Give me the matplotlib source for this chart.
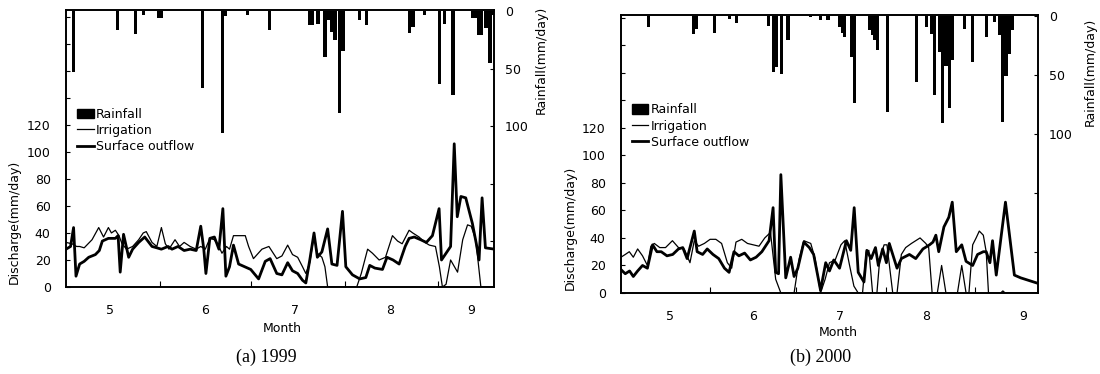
import numpy as np
import matplotlib
matplotlib.use('Agg')
import matplotlib.pyplot as plt
from matplotlib.patches import Patch
from matplotlib.lines import Line2D

# -------- data: days counted from 1 May, (day, value)
rain_a = [(2.4, 53), (17, 16), (23, 20), (25.5, 3), (30.5, 6), (31.5, 6), (45, 67),
          (51.7, 106), (52.6, 4), (60, 3), (67.3, 16), (80.5, 12), (81.5, 12),
          (83.2, 11), (85.5, 40), (86.6, 8), (87.7, 18), (88.8, 25), (90.4, 89),
          (91.5, 35), (97, 8), (99.2, 12), (113.5, 19), (114.6, 14), (118.4, 3),
          (123.4, 63), (125, 11), (127.8, 73), (134.4, 6), (135.3, 6), (136.2, 21),
          (137.2, 21), (138.7, 15), (140, 45), (141, 3)]

irr_a = [(0, 33), (2, 32), (3.5, 30), (4.5, 30), (6, 29), (8.6, 35), (10.8, 44),
         (12.4, 37), (14, 44), (15, 40), (16.3, 42), (17.5, 38), (18.5, 32), (20, 28),
         (22, 30), (24, 35), (25.5, 40), (26.5, 41), (28.4, 33), (30, 30), (31.5, 44),
         (32.8, 32), (34, 28), (36, 35), (37.5, 30), (39, 33), (41, 30), (43, 28),
         (44.5, 30), (46, 28), (47.5, 36), (49, 35), (50.5, 30), (51.5, 25), (53, 30),
         (54, 28), (55.3, 38), (57, 38), (59.2, 38), (60.3, 30), (61.9, 21), (64.7, 28),
         (67, 30), (69.6, 21), (71.3, 23), (73.2, 31), (74.8, 24), (76.5, 22), (78.1, 15),
         (79.2, 10), (80.5, 18), (81.9, 38), (83, 25), (84.5, 22), (85.5, 15), (86.4, 0),
         (96, 0), (97.5, 10), (99.6, 28), (101.2, 25), (103.4, 20), (105.5, 22),
         (107.8, 38), (109.5, 34), (111, 32), (113.3, 42), (114.5, 40), (116.6, 37),
         (118.5, 33), (120, 31), (122, 30), (123.3, 15), (124.3, 0), (125.5, 2),
         (127, 20), (129.3, 11), (131, 35), (132.6, 46), (133.8, 45), (135.3, 35),
         (137, 0), (141.5, 0)]

surf_a = [(0, 28), (1.5, 30), (2.5, 44), (3.3, 8), (4.5, 17), (6, 19), (7.5, 22),
          (9.7, 24), (11, 27), (12, 34), (14, 36), (16.3, 36), (17.2, 38), (17.9, 11),
          (19, 39), (20.7, 22), (22, 28), (24, 33), (26, 37), (28.4, 30), (30, 29),
          (31.5, 28), (33.7, 30), (35, 28), (37, 30), (39, 27), (41, 28), (43, 27),
          (44.5, 45), (45.5, 28), (46.2, 10), (47.5, 36), (49, 37), (50.5, 28),
          (51.8, 58), (52.8, 8), (54, 15), (55.3, 31), (57, 17), (59, 15), (61, 13),
          (63.6, 6), (65.8, 19), (67.4, 21), (69.6, 10), (71.3, 9), (73.2, 18),
          (74.8, 12), (76.5, 10), (78.1, 5), (79.2, 3), (80.5, 20), (81.9, 40), (83, 22),
          (84.5, 26), (86.4, 43), (87.8, 17), (89.5, 16), (91.3, 56), (92.4, 15),
          (94.6, 9), (97, 6), (99, 7), (100.3, 16), (102, 14), (104.5, 13), (106, 22),
          (108, 20), (110, 17), (112, 30), (113.3, 36), (115, 37), (117.1, 35), (119, 33),
          (121, 38), (123.2, 58), (124, 20), (125.5, 25), (127, 30), (128.2, 106),
          (129.2, 52), (130.4, 67), (132, 66), (134.2, 47), (135.5, 32), (136.4, 20),
          (137.4, 66), (138.5, 29), (141.5, 28)]

rain_b = [(9.5, 9), (25.1, 15), (26.3, 11), (32.6, 14), (37.8, 2), (40.2, 6), (51.2, 8),
          (52.9, 47), (54, 43), (55.8, 49), (58.1, 20), (65.8, 1), (69.3, 3), (72, 3),
          (76, 9), (77, 14), (77.8, 18), (80.1, 35), (81.3, 74), (86.5, 12), (87.4, 16),
          (88.2, 20), (89.3, 29), (92.8, 81), (102.7, 56), (106.2, 9), (107.9, 15),
          (109, 67), (110.8, 30), (111.9, 91), (113, 42), (114.2, 78), (115.4, 37),
          (119.4, 11), (122.3, 39), (127, 18), (129.9, 5), (131.7, 16), (132.7, 90),
          (133.9, 51), (135.1, 32), (136.2, 12)]

irr_b = [(0, 26), (1.5, 28), (2.9, 30), (4.3, 26), (5.8, 32), (7.5, 27), (9.2, 20),
         (10.4, 34), (11.6, 36), (13.5, 33), (15.5, 33), (17.9, 38), (20, 33), (22, 32),
         (24, 22), (25.5, 38), (27, 34), (29, 36), (31, 39), (33, 39), (35, 36), (37, 22),
         (38.5, 18), (40, 37), (42, 39), (44, 36), (46, 35), (48, 34), (50, 40),
         (52, 44), (53.8, 10), (55.6, 0), (60.2, 0), (62, 25), (63.6, 38), (66, 36),
         (67.5, 25), (69.4, 0), (71, 10), (72.5, 22), (74.5, 24), (76.5, 35), (77.8, 38),
         (79.5, 20), (81, 5), (82.5, 0), (84, 0), (85.3, 30), (86.2, 31), (87.5, 0),
         (89, 0), (90, 25), (91.5, 35), (92.5, 35), (94.5, 0), (96, 0), (97.5, 28),
         (99, 33), (101, 36), (104, 40), (106, 36), (107, 33), (108.2, 0), (110, 0),
         (111.5, 20), (113, 0), (117, 0), (118.5, 20), (120, 0), (121, 0), (122.3, 35),
         (123.5, 40), (124.6, 45), (126, 42), (127, 30), (127.8, 0), (132, 0),
         (132.8, 1.5), (133.6, 0), (145, 0)]

surf_b = [(0, 17), (1.5, 14), (3, 16), (4.3, 12), (5.8, 16), (7.5, 20), (9.2, 18),
          (11, 35), (12.5, 30), (14, 30), (16, 27), (18, 28), (20, 32), (21.5, 33),
          (23, 25), (25.5, 45), (26.5, 30), (28.4, 28), (30, 32), (32, 28), (34, 25),
          (36, 18), (37.6, 15), (39.3, 30), (41, 27), (43, 29), (45, 24), (47, 26),
          (49, 30), (51.5, 38), (52.9, 62), (53.8, 15), (54.8, 14), (55.6, 86),
          (57.3, 11), (59, 26), (60.2, 12), (61.5, 18), (63.6, 37), (65.5, 33), (67, 28),
          (69.4, 2), (71.2, 22), (72.5, 16), (74, 24), (76, 18), (78.4, 38), (79.9, 31),
          (81.1, 62), (82.5, 15), (84.5, 8), (85.5, 31), (87, 25), (88.5, 33), (89.5, 20),
          (91, 32), (92.3, 22), (93.3, 36), (96, 18), (97.5, 25), (100.3, 28),
          (102.5, 25), (105, 32), (107.3, 35), (108.5, 37), (109.5, 42), (110.5, 30),
          (112.3, 48), (114, 55), (115.2, 66), (116.6, 30), (118.5, 35), (120, 23),
          (122.3, 20), (124, 28), (126, 30), (127, 30), (128.3, 22), (129.2, 38),
          (130.5, 13), (133.7, 66), (136.8, 13), (139, 11), (145, 7)]

month_names = ['5', '6', '7', '8', '9']
month_pos_a = [14.5, 45.9, 75.6, 107, 133.7]
month_pos_b = [17, 46, 76, 106, 140]
month_edges = [31, 61, 92, 123]


def panel(rect, rain, irr, surf, xmax, rmax, dmax, mpos, cap, cap_x, coords):
    ax = fig.add_axes(rect)
    ax2 = ax.twinx()

    r = np.array(rain).T
    ax2.bar(r[0], r[1], width=1.1, color='k', align='center')
    ax2.set_ylim(rmax, -1)
    ax2.set_yticks([0, 50, 100, 150, 200])
    ax2.set_yticklabels(['0', '50', '100', '', ''])
    ax2.tick_params(axis='y', direction='in', length=3, pad=8, labelsize=9)
    ax2.set_ylabel('Rainfall(mm/day)', fontsize=9, rotation=90)
    ax2.yaxis.set_label_coords(coords[0], coords[1])

    i = np.array(irr).T
    s = np.array(surf).T
    ax.plot(i[0], i[1], color='k', lw=0.9)
    ax.plot(s[0], s[1], color='k', lw=2.0)
    ax.set_xlim(0, xmax)
    ax.set_ylim(0, dmax)
    ax.set_yticks(np.arange(0, 201, 20))
    ax.set_yticklabels([str(v) if v <= 120 else '' for v in range(0, 201, 20)])
    ax.tick_params(axis='y', direction='in', length=3, pad=11, labelsize=9)
    ax.set_ylabel('Discharge(mm/day)', fontsize=9)
    ax.yaxis.set_label_coords(coords[2], coords[3])

    ax.set_xticks(month_edges)
    ax.set_xticklabels([])
    ax.set_xticks(mpos, minor=True)
    ax.set_xticklabels(month_names, minor=True)
    ax.tick_params(axis='x', which='major', direction='in', length=4)
    ax.tick_params(axis='x', which='minor', length=0, pad=12, labelsize=9)
    ax.set_xlabel('Month', fontsize=9)
    ax.xaxis.set_label_coords(coords[4], coords[5])

    for a in (ax, ax2):
        for sp in a.spines.values():
            sp.set_linewidth(1.2)

    handles = [Patch(facecolor='k', edgecolor='k'),
               Line2D([], [], color='k', lw=0.9),
               Line2D([], [], color='k', lw=2.0)]
    ax2.legend(handles, ['Rainfall', 'Irrigation', 'Surface outflow'],
               loc='upper left', bbox_to_anchor=(0.015, coords[6]), frameon=False,
               fontsize=9, handlelength=1.3, handleheight=0.8, handletextpad=0.2,
               labelspacing=0.25, borderaxespad=0)

    fig.text(cap_x, 0.045, cap, ha='center', va='center',
             family='Liberation Serif', fontsize=13)


fig = plt.figure(figsize=(11, 3.74), dpi=100)
panel([0.06, 0.2326, 0.389, 0.7406], rain_a, irr_a, surf_a, 141.3, 240, 205,
      month_pos_a, '(a) 1999', 0.242,
      (1.095, 0.82, -0.105, 0.235, 0.505, -0.125, 0.665))
panel([0.5645, 0.2166, 0.3791, 0.7433], rain_b, irr_b, surf_b, 145, 235, 202,
      month_pos_b, '(b) 2000', 0.746,
      (1.11, 0.795, -0.105, 0.234, 0.52, -0.12, 0.7))
fig.savefig('out.png', dpi=100)
